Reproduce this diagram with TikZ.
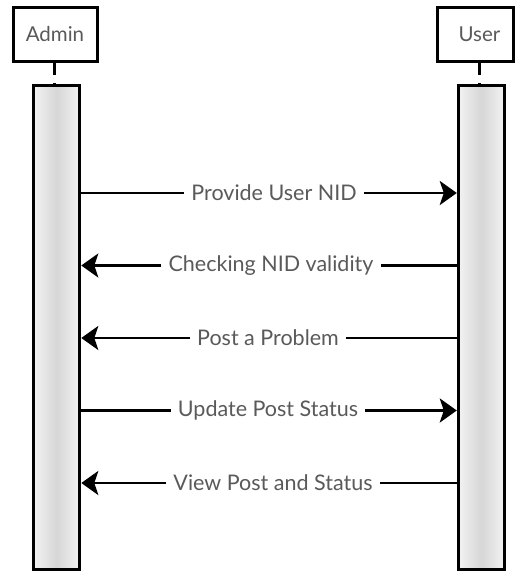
\documentclass[tikz,border=0pt]{standalone}
\usepackage{fontspec}
\setmainfont{Lato}
\usetikzlibrary{arrows.meta}
\definecolor{txt}{HTML}{5A5A5A}
\begin{document}
\begin{tikzpicture}[x=1pt,y=-1pt,
  head/.style={draw=black, line width=3pt, fill=white, minimum height=54pt, inner sep=0pt, text=txt, font=\fontsize{20.5}{24}\selectfont},
  life/.style={draw=black, line width=3pt, left color=gray!10, right color=gray!10, middle color=gray!32, minimum width=46pt, minimum height=484pt, inner sep=0pt},
  lab/.style={fill=white, inner xsep=7pt, inner ysep=2pt, text=txt, font=\fontsize{21.5}{25}\selectfont},
  msg/.style={line width=2.8pt},
  msgarrow/.style={line width=2.8pt, -{Stealth[length=17pt, width=24pt, inset=4pt]}},
  stub/.style={line width=3pt, dash pattern=on 13pt off 8pt}
]
\useasboundingbox (0,0) rectangle (515,573);

\node[head, minimum width=84pt] (ahead) at (55,34) {Admin};
\node[head, minimum width=76pt] (uhead) at (475,34) {\hspace{9pt}User};

\node[life] (alife) at (56.8,327.5) {};
\node[life] (ulife) at (481.3,327.5) {};

\draw[stub] (54,62) coordinate (as) -- (54,85) coordinate (ae);
\draw[stub] (479.5,62) coordinate (us) -- (479.5,85) coordinate (ue);

\node[lab] (m1) at (274,193) {Provide User NID};
\node[lab] (m2) at (271,265.5) {Checking NID validity};
\node[lab] (m3) at (268,338) {Post a Problem};
\node[lab] (m4) at (268,410.5) {Update Post Status};
\node[lab] (m5) at (273,483) {View Post and Status};

% admin -> user
\draw[msg] (alife.east |- m1) -- (m1.west);
\draw[msgarrow] (m1.east) -- (ulife.west |- m1);
\draw[msg] (alife.east |- m4) -- (m4.west);
\draw[msgarrow] (m4.east) -- (ulife.west |- m4);
% user -> admin
\draw[msg] (ulife.west |- m2) -- (m2.east);
\draw[msgarrow] (m2.west) -- (alife.east |- m2);
\draw[msg] (ulife.west |- m3) -- (m3.east);
\draw[msgarrow] (m3.west) -- (alife.east |- m3);
\draw[msg] (ulife.west |- m5) -- (m5.east);
\draw[msgarrow] (m5.west) -- (alife.east |- m5);
\end{tikzpicture}
\end{document}
